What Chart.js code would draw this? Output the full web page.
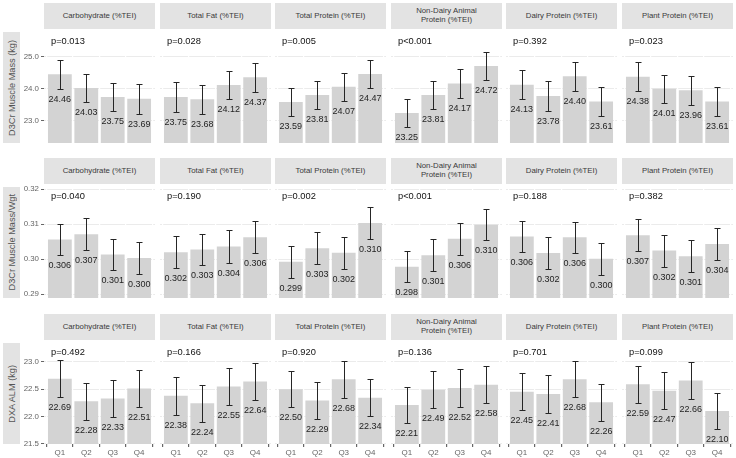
<!DOCTYPE html>
<html>
<head>
<meta charset="utf-8">
<script src="https://cdn.jsdelivr.net/npm/chart.js@4"></script>
<style>
  body { margin: 0; width: 736px; height: 458px; overflow: hidden; position: relative; background: #fff;
         font-family: "Liberation Sans", Arial, sans-serif; }
  .strip { position: absolute; background: #e3e3e3; color: #3a3a3a; font-size: 7.8px; line-height: 8.6px;
           display: flex; align-items: center; justify-content: center; text-align: center; white-space: pre; }
  .ystrip { position: absolute; background: #e3e3e3; color: #555; font-size: 9.2px;
            display: flex; align-items: center; justify-content: center; }
  .ystrip span { writing-mode: vertical-rl; transform: rotate(180deg); white-space: nowrap; }
  canvas { position: absolute; }
</style>
</head>
<body>
<script>
const quartiles = ['Q1', 'Q2', 'Q3', 'Q4'];
const exposures = ['Carbohydrate (%TEI)', 'Total Fat (%TEI)', 'Total Protein (%TEI)',
  'Non-Dairy Animal\nProtein (%TEI)', 'Dairy Protein (%TEI)', 'Plant Protein (%TEI)'];
const outcomes = ['D3Cr Muscle Mass (kg)', 'D3Cr Muscle Mass/Wgt', 'DXA ALM (kg)'];

// D3Cr muscle mass (kg): means and half-width of error bars, one row per exposure
const massMean = [
  [24.46, 24.03, 23.75, 23.69],
  [23.75, 23.68, 24.12, 24.37],
  [23.59, 23.81, 24.07, 24.47],
  [23.25, 23.81, 24.17, 24.72],
  [24.13, 23.78, 24.40, 23.61],
  [24.38, 24.01, 23.96, 23.61]
];
const massErr = [
  [0.45, 0.45, 0.45, 0.46],
  [0.46, 0.45, 0.44, 0.45],
  [0.45, 0.44, 0.44, 0.44],
  [0.45, 0.44, 0.45, 0.45],
  [0.45, 0.46, 0.45, 0.45],
  [0.45, 0.44, 0.45, 0.45]
];
const massP = ['p=0.013', 'p=0.028', 'p=0.005', 'p<0.001', 'p=0.392', 'p=0.023'];

// D3Cr muscle mass / weight
const ratioMean = [
  [0.3056, 0.3071, 0.3013, 0.3003],
  [0.3019, 0.3027, 0.3036, 0.3062],
  [0.2992, 0.3031, 0.3018, 0.3103],
  [0.2978, 0.3011, 0.3058, 0.3098],
  [0.3064, 0.3017, 0.3062, 0.3001],
  [0.3068, 0.3024, 0.3008, 0.3043]
];
const ratioErr = [
  [0.0045, 0.0045, 0.0045, 0.0046],
  [0.0046, 0.0044, 0.0046, 0.0046],
  [0.0045, 0.0045, 0.0046, 0.0046],
  [0.0045, 0.0045, 0.0046, 0.0045],
  [0.0045, 0.0045, 0.0045, 0.0046],
  [0.0045, 0.0046, 0.0045, 0.0045]
];
const ratioP = ['p=0.040', 'p=0.190', 'p=0.002', 'p<0.001', 'p=0.188', 'p=0.382'];

// DXA ALM (kg)
const almMean = [
  [22.69, 22.28, 22.33, 22.51],
  [22.38, 22.24, 22.55, 22.64],
  [22.50, 22.29, 22.68, 22.34],
  [22.21, 22.49, 22.52, 22.58],
  [22.45, 22.41, 22.68, 22.26],
  [22.59, 22.47, 22.66, 22.10]
];
const almErr = [
  [0.34, 0.34, 0.34, 0.34],
  [0.345, 0.34, 0.34, 0.34],
  [0.335, 0.34, 0.34, 0.34],
  [0.335, 0.34, 0.34, 0.34],
  [0.34, 0.34, 0.33, 0.34],
  [0.34, 0.34, 0.34, 0.33]
];
const almP = ['p=0.492', 'p=0.166', 'p=0.920', 'p=0.136', 'p=0.701', 'p=0.099'];

const yTicks = [[23, 24, 25], [0.29, 0.30, 0.31, 0.32], [21.5, 22, 22.5, 23]];
const yTickDigits = [1, 2, 1];
const labelDigits = [2, 3, 2];
const yRange = [[22.31, 25.875], [0.28886, 0.32143], [21.495, 23.40]];

const rows = [
  { mean: massMean, err: massErr, p: massP },
  { mean: ratioMean, err: ratioErr, p: ratioP },
  { mean: almMean, err: almErr, p: almP }
];

// layout (px)
const stripTop = [3, 158, 314];
const stripH = 26;
const panelH = [114, 114, 104];
const panelW = 111;
const panelLeft = c => Math.round(44 + c * 115.6);
const FONT = '"Liberation Sans", Arial, sans-serif';

// no extra room for tick labels, panels must line up exactly
function noPad(s) {
  s.paddingTop = 0; s.paddingBottom = 0; s.paddingLeft = 0; s.paddingRight = 0;
}

function overlay(r, c) {
  const d = rows[r];
  return {
    id: 'overlay',
    afterDatasetsDraw(chart) {
      const ctx = chart.ctx;
      const ys = chart.scales.y;
      const bars = chart.getDatasetMeta(0).data;
      ctx.save();
      ctx.strokeStyle = '#262626';
      ctx.lineWidth = 1;
      ctx.fillStyle = '#1f1f1f';
      ctx.font = '9px ' + FONT;
      ctx.textAlign = 'center';
      ctx.textBaseline = 'middle';
      bars.forEach(function (bar, i) {
        const m = d.mean[c][i], e = d.err[c][i];
        const x = Math.round(bar.x) + 0.5;
        const top = Math.round(ys.getPixelForValue(m + e)) + 0.5;
        const bot = Math.round(ys.getPixelForValue(m - e)) + 0.5;
        ctx.beginPath();
        ctx.moveTo(x, top); ctx.lineTo(x, bot);
        ctx.moveTo(x - 3, top); ctx.lineTo(x + 3, top);
        ctx.moveTo(x - 3, bot); ctx.lineTo(x + 3, bot);
        ctx.stroke();
        ctx.fillText(m.toFixed(labelDigits[r]), bar.x, bot + 10);
      });
      ctx.font = '9.3px ' + FONT;
      ctx.textAlign = 'left';
      ctx.fillStyle = '#111';
      ctx.fillText(d.p[c], chart.chartArea.left + 7, chart.chartArea.top + 12);
      ctx.restore();
    }
  };
}

function makePanel(r, c) {
  const first = c === 0, last = r === 2;
  const top = stripTop[r] + stripH;
  const left = first ? 20 : panelLeft(c);
  const w = panelLeft(c) + panelW - left;
  const h = panelH[r] + (last ? 15 : 0);

  const cv = document.createElement('canvas');
  cv.width = w; cv.height = h;
  cv.style.left = left + 'px'; cv.style.top = top + 'px';
  document.body.appendChild(cv);

  new Chart(cv, {
    type: 'bar',
    data: {
      datasets: [{
        data: rows[r].mean[c].map((v, i) => ({ x: i, y: v })),
        backgroundColor: '#d3d3d3',
        borderWidth: 0,
        barPercentage: 0.9,
        categoryPercentage: 1
      }]
    },
    options: {
      responsive: false,
      animation: false,
      devicePixelRatio: 1,
      layout: { padding: 0, autoPadding: false },
      plugins: { legend: { display: false }, tooltip: { enabled: false } },
      scales: {
        y: {
          min: yRange[r][0], max: yRange[r][1],
          afterBuildTicks: s => { s.ticks = yTicks[r].map(v => ({ value: v })); },
          afterFit: s => { s.width = first ? 24 : 0; noPad(s); },
          grid: { color: '#ebebeb', lineWidth: 1, drawTicks: first, tickLength: 3, tickColor: '#666' },
          border: { display: false },
          ticks: {
            display: first, padding: 2, color: '#666',
            font: { family: FONT, size: 7.9 },
            callback: v => v.toFixed(yTickDigits[r])
          }
        },
        x: {
          type: 'linear', min: -0.6, max: 3.6, offset: false,
          afterBuildTicks: s => { s.ticks = [0, 1, 2, 3].map(v => ({ value: v })); },
          afterFit: s => { s.height = last ? 15 : 0; noPad(s); },
          grid: { color: '#ffffff', lineWidth: 1.2, drawTicks: last, tickLength: 3, tickColor: '#666' },
          border: { display: false },
          ticks: {
            display: last, padding: 1, color: '#666', maxRotation: 0,
            font: { family: FONT, size: 8 },
            callback: v => quartiles[v]
          }
        }
      }
    },
    plugins: [overlay(r, c)]
  });
}

for (let r = 0; r < 3; r++) {
  // outcome strip on the left
  const ys = document.createElement('div');
  ys.className = 'ystrip';
  ys.style.left = '3px'; ys.style.width = '17px';
  ys.style.top = (stripTop[r] + stripH + 3) + 'px';
  ys.style.height = (panelH[r] - 3) + 'px';
  ys.innerHTML = '<span></span>';
  ys.firstChild.textContent = outcomes[r];
  document.body.appendChild(ys);

  for (let c = 0; c < 6; c++) {
    const st = document.createElement('div');
    st.className = 'strip';
    st.style.left = panelLeft(c) + 'px';
    st.style.top = stripTop[r] + 'px';
    st.style.width = panelW + 'px';
    st.style.height = stripH + 'px';
    st.textContent = exposures[c];
    document.body.appendChild(st);
    makePanel(r, c);
  }
}
</script>
</body>
</html>
